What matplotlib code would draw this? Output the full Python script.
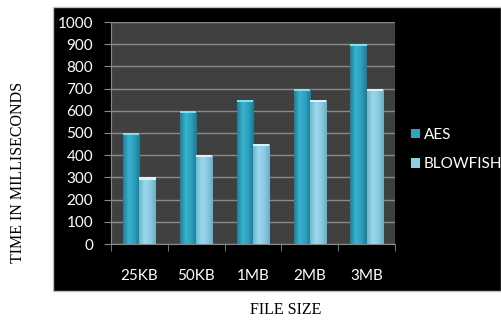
import matplotlib
matplotlib.use("Agg")
import matplotlib.pyplot as plt
import numpy as np
from matplotlib.patches import Rectangle
from matplotlib.colors import LinearSegmentedColormap

categories = ["25KB", "50KB", "1MB", "2MB", "3MB"]
aes = [500, 600, 650, 700, 900]
blowfish = [300, 400, 450, 650, 700]
series_names = ["AES", "BLOWFISH"]
yticks = [0, 100, 200, 300, 400, 500, 600, 700, 800, 900, 1000]

W, H = 501, 320
fig = plt.figure(figsize=(W / 100, H / 100), dpi=100)
fig.patch.set_facecolor("white")

# black chart background
bg = fig.add_axes([0, 0, 1, 1], zorder=-5)
bg.set_xlim(0, W)
bg.set_ylim(H, 0)
bg.axis("off")
bg.add_patch(Rectangle((53, 7), W - 53, 284, facecolor="black", edgecolor="#bfbfbf", lw=1))

ax = fig.add_axes([111 / W, 1 - 244 / H, (395 - 111) / W, (244 - 22) / H], zorder=1)
ax.set_facecolor("#404040")

x = np.arange(len(categories))
bw = 0.285
c_aes = LinearSegmentedColormap.from_list("a", ["#1f7f99", "#38b3d0", "#2ea0bd", "#1c7a94"])
c_bf = LinearSegmentedColormap.from_list("b", ["#6fb6cc", "#9ad8ee", "#8ccbe2", "#6aafc6"])
b1 = ax.bar(x - bw / 2, aes, bw, color="#2fa3c0", zorder=3, label=series_names[0])
b2 = ax.bar(x + bw / 2, blowfish, bw, color="#8dcfe6", zorder=3, label=series_names[1])
grad = np.linspace(0, 1, 64).reshape(1, -1)
for bars, cm, cap in [(b1, c_aes, "#7fe0f5"), (b2, c_bf, "#d8f3fb")]:
    for r in bars:
        x0, w, h = r.get_x(), r.get_width(), r.get_height()
        im = ax.imshow(grad, cmap=cm, aspect="auto", extent=(x0, x0 + w, 0, h), zorder=4)
        im.set_clip_path(r)
        ax.add_patch(Rectangle((x0, h - 10), w, 10, facecolor=cap, edgecolor="none", zorder=5))
ax.set_xlim(-0.5, len(categories) - 0.5)
ax.set_ylim(0, 1000)

ax.set_yticks(yticks)
ax.set_xticks(x)
ax.set_xticklabels(categories)
ax.set_xticks(np.arange(-0.5, len(categories), 1), minor=True)
ax.yaxis.grid(True, color="#8a8a8a", lw=1, zorder=1)
ax.set_axisbelow(True)
for s in ["top", "right"]:
    ax.spines[s].set_visible(False)
ax.spines["left"].set_color("#8a8a8a")
ax.spines["bottom"].set_color("#8a8a8a")
ax.tick_params(axis="y", colors="white", labelcolor="white", length=5, color="#8a8a8a",
               labelsize=11, pad=8)
ax.tick_params(axis="x", which="major", length=0, labelcolor="white", labelsize=11, pad=18)
ax.tick_params(axis="x", which="minor", length=5, color="#8a8a8a")
for lab in ax.get_xticklabels() + ax.get_yticklabels():
    lab.set_family(["Lato", "DejaVu Sans"])

leg = fig.legend(handles=[b1, b2], labels=series_names, loc="upper left",
                 bbox_to_anchor=(411 / W, 1 - 128 / H), frameon=False,
                 borderpad=0, borderaxespad=0,
                 labelcolor="white", prop={"family": "Lato", "size": 11},
                 handlelength=0.6, handleheight=0.6, handletextpad=0.25, labelspacing=1.0)

fig.text(18 / W, 1 - 172 / H, "TIME IN MILLISECONDS", rotation=90, ha="center", va="center",
         family="Liberation Serif", fontsize=11.5, color="black")
fig.text(286 / W, 1 - 310 / H, "FILE SIZE", ha="center", va="center",
         family="Liberation Serif", fontsize=11.5, color="black")

fig.savefig("out.png", dpi=100, facecolor="white")
